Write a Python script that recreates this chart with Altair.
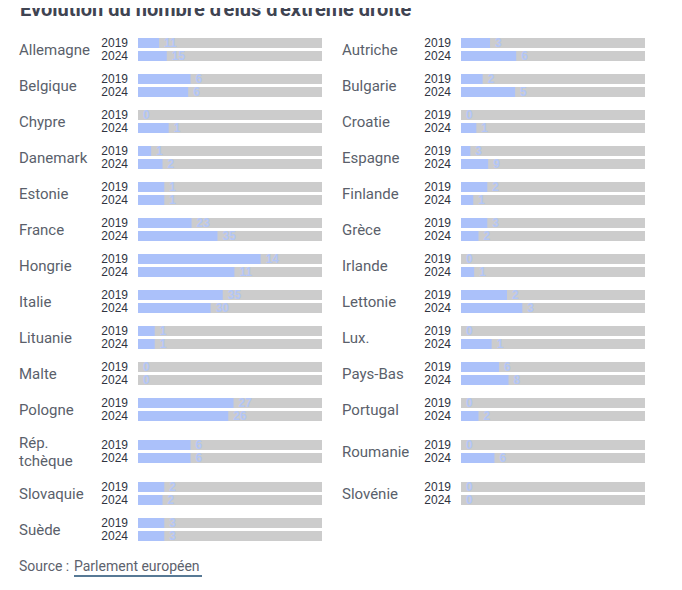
import altair as alt
import pandas as pd

TITLE = "Évolution du nombre d'élus d'extrême droite"

pays = ["Allemagne", "Autriche", "Belgique", "Bulgarie", "Chypre", "Croatie",
        "Danemark", "Espagne", "Estonie", "Finlande", "France", "Grèce",
        "Hongrie", "Irlande", "Italie", "Lettonie", "Lituanie", "Lux.",
        "Malte", "Pays-Bas", "Pologne", "Portugal", "Rép.\ntchèque", "Roumanie",
        "Slovaquie", "Slovénie", "Suède"]
elus_2019 = [11, 3, 6, 2, 0, 0, 1, 3, 1, 2, 23, 3, 14, 0, 35, 2, 1, 0, 0, 6,
             27, 0, 6, 0, 2, 0, 3]
elus_2024 = [15, 6, 6, 5, 1, 1, 2, 9, 1, 1, 35, 2, 11, 1, 30, 3, 1, 1, 0, 8,
             26, 2, 6, 6, 2, 0, 3]
sieges_2019 = [96, 19, 21, 17, 6, 12, 14, 59, 7, 14, 79, 21, 21, 13, 76, 8, 11,
               6, 6, 29, 52, 21, 21, 33, 14, 8, 21]
sieges_2024 = [96, 20, 22, 17, 6, 12, 15, 61, 7, 15, 81, 21, 21, 14, 76, 9, 11,
               6, 6, 31, 53, 21, 21, 33, 15, 9, 21]
annees = ["2019", "2024"]

# layout helpers (pixels)
BAR_LEN = 184
COL_GAP = 139
ROW_STEP = 36
EXTRA = 6          # extra space above/below a row whose label has two lines
BAR_H = 10
BAR_STEP = 13
LINE_H = 18
W = 2 * BAR_LEN + COL_GAP
H = 503
col_offset = (BAR_LEN + COL_GAP) / BAR_LEN

n_rows = (len(pays) + 1) // 2
multi = [any("\n" in pays[k] for k in range(2 * r, min(2 * r + 2, len(pays)))) for r in range(n_rows)]
row_top = []
acc = 0
for r in range(n_rows):
    if multi[r]:
        acc += EXTRA
    row_top.append(acc)
    acc += ROW_STEP + (EXTRA if multi[r] else 0)

bars, labels = [], []
for k, p in enumerate(pays):
    r, c = divmod(k, 2)
    top = row_top[r]
    x0 = c * col_offset
    nl = p.count("\n")
    labels.append({"pays": p, "x0": x0,
                   "ym": top + (BAR_STEP + BAR_H) / 2 - nl * LINE_H / 2})
    for j, (a, e, s) in enumerate(zip(annees, [elus_2019[k], elus_2024[k]],
                                          [sieges_2019[k], sieges_2024[k]])):
        yb0 = top + j * BAR_STEP
        bars.append({"pays": p, "annee": a, "elus": e, "sieges": s,
                     "x0": x0, "x1": x0 + e / s, "xf": x0 + 1,
                     "yb0": yb0, "yb1": yb0 + BAR_H, "ym": yb0 + BAR_H / 2})
bars = pd.DataFrame(bars)
labels = pd.DataFrame(labels)

xs = alt.Scale(domain=[0, W / BAR_LEN], nice=False, zero=False)
ys = alt.Scale(domain=[0, H], reverse=True, nice=False, zero=False)

NARROW = "Liberation Sans Narrow, Liberation Sans, sans-serif"

base = alt.Chart(bars)
bg = base.mark_bar(color="#cccccc").encode(
    x=alt.X("x0:Q", scale=xs, axis=None), x2="xf:Q",
    y=alt.Y("yb0:Q", scale=ys, axis=None), y2="yb1:Q")
fg = base.mark_bar(color="#abc1fa").encode(
    x=alt.X("x0:Q", scale=xs, axis=None), x2="x1:Q",
    y=alt.Y("yb0:Q", scale=ys, axis=None), y2="yb1:Q")
vals = base.mark_text(align="left", baseline="middle", dx=5, fontSize=12,
                      fontWeight="bold", color="#b3c6f7", font=NARROW).encode(
    x=alt.X("x1:Q", scale=xs, axis=None), y=alt.Y("ym:Q", scale=ys, axis=None),
    text="elus:Q")
years = base.mark_text(align="right", baseline="middle", dx=-10, fontSize=12,
                       color="#30343f", font=NARROW).encode(
    x=alt.X("x0:Q", scale=xs, axis=None), y=alt.Y("ym:Q", scale=ys, axis=None),
    text="annee:N")
names = alt.Chart(labels).mark_text(align="left", baseline="middle", dx=-119,
                                    fontSize=15, color="#5a5f6b", font="Roboto",
                                    lineBreak="\n", lineHeight=LINE_H).encode(
    x=alt.X("x0:Q", scale=xs, axis=None), y=alt.Y("ym:Q", scale=ys, axis=None),
    text="pays:N")

one = pd.DataFrame({"t": [0]})
title = alt.Chart(one).mark_text(align="left", baseline="alphabetic", fontSize=20,
                                 fontWeight="bold", color="#3f4452", font="Roboto").encode(
    x=alt.value(-118), y=alt.value(-22), text=alt.value(TITLE))
src1 = alt.Chart(one).mark_text(align="left", baseline="middle", fontSize=14,
                                color="#5d626d", font="Roboto").encode(
    x=alt.value(-119), y=alt.value(529), text=alt.value("Source :"))
src2 = alt.Chart(one).mark_text(align="left", baseline="middle", fontSize=14,
                                color="#5d626d", font="Roboto").encode(
    x=alt.value(-64), y=alt.value(529), text=alt.value("Parlement européen"))
underline = alt.Chart(one).mark_rule(color="#1f4d72", strokeWidth=1.5).encode(
    x=alt.value(-64), x2=alt.value(64), y=alt.value(538))

chart = alt.layer(bg, fg, vals, years, names, title, src1, src2, underline).properties(
    width=W, height=H,
    autosize=alt.AutoSizeParams(type="none"),
    padding={"left": 130, "top": 30, "right": 29, "bottom": 41},
    background="white",
).configure_view(strokeWidth=0)

chart.save("out.html", embed_options={"renderer": "svg", "actions": False})
